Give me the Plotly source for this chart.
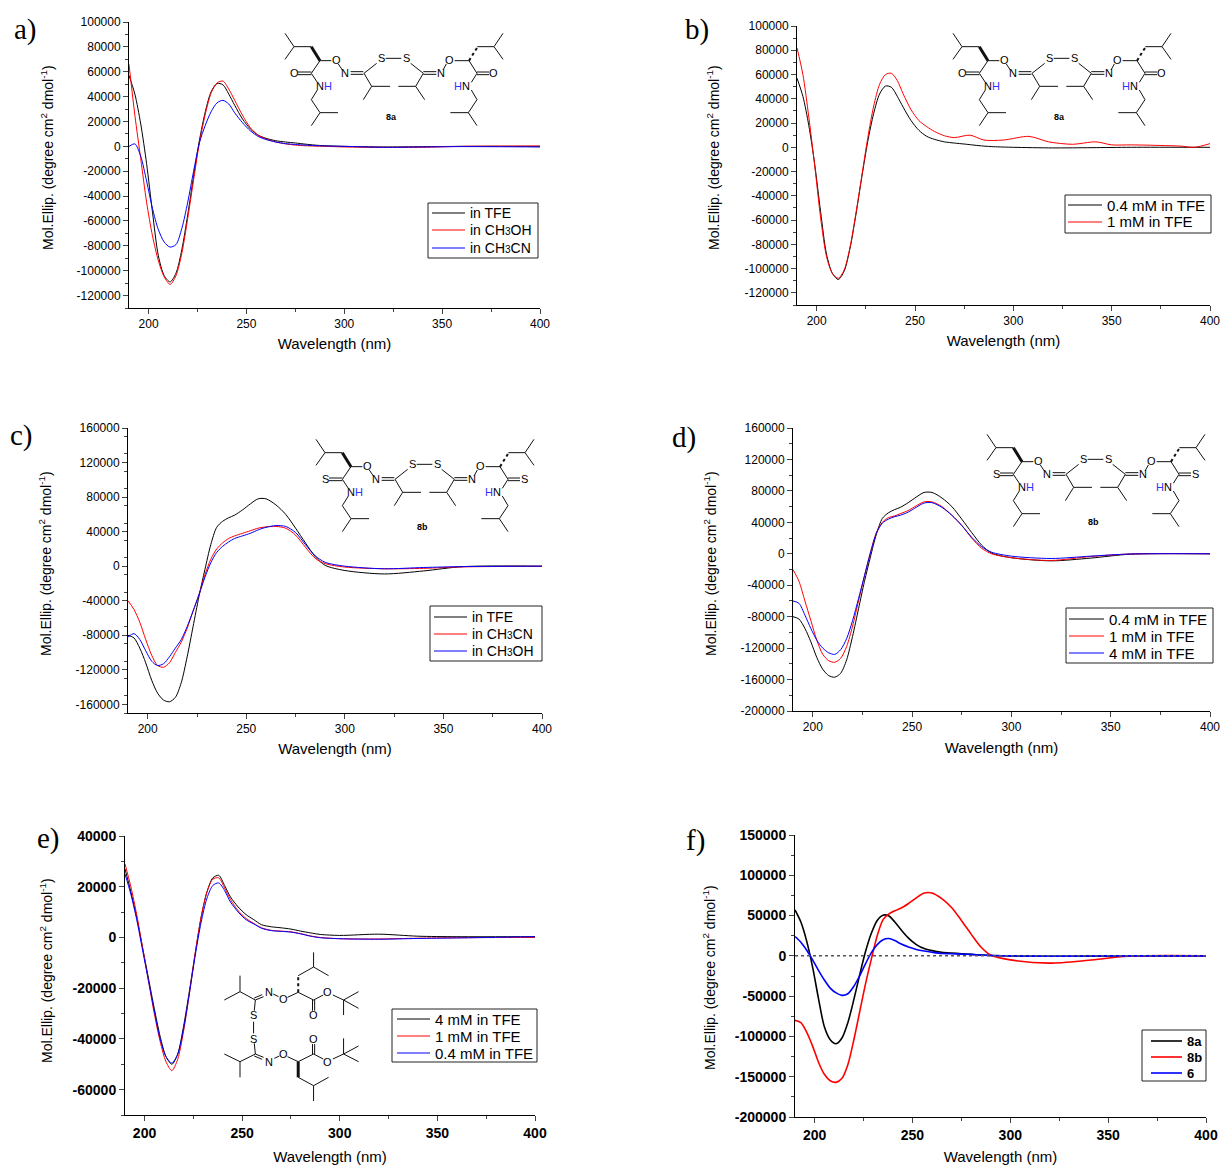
import plotly.graph_objects as go

W, H = 1221, 1165

# ---------- data ----------
WL = [190,193,196,199,202,205,208,211,214,217,220,223,226,229,232,235,238,241,244,248,252,256,260,265,270,275,280,285,290,300,320,340,360,400]

A_TFE = [57000,42000,18000,-14000,-53000,-88000,-104000,-109000,-102000,-83000,-55000,-24000,5000,28000,44000,50500,49500,42000,33000,22000,14000,9000,6500,4500,3500,2700,1800,1000,500,0,-500,-300,0,0]
A_MEOH = [66000,25000,-10000,-45000,-72000,-92000,-105000,-111000,-104000,-86000,-58000,-27000,3000,26000,43000,51000,52500,46000,37000,25000,15000,9000,6000,3500,2000,1000,500,200,0,-500,-800,-700,0,300]
A_MECN = [0,2000,-8000,-28000,-50000,-67000,-77000,-81000,-79000,-66000,-45000,-20000,3000,17000,28000,35000,37000,34000,27000,19000,12500,8000,5500,3500,2200,1500,1000,600,300,0,-800,-500,-200,-500]

WL_B_RED = [190,193,196,199,202,205,208,211,214,217,220,223,226,229,232,235,238,241,244,248,252,256,260,265,270,278,285,295,308,318,330,342,350,360,375,385,392,400]
B_RED = [82000,60000,25000,-15000,-58000,-90000,-104000,-108000,-101000,-82000,-54000,-23000,8000,34000,52000,60000,61000,55000,44000,31000,22000,17000,13000,9500,8000,10000,6000,6000,9000,4500,2500,4500,2000,2000,1500,1000,0,3000]

C_TFE = [-80000,-83000,-95000,-112000,-132000,-147000,-155000,-157000,-152000,-135000,-105000,-70000,-35000,-4000,25000,45000,52000,56000,59000,65000,72000,78000,78000,71000,60000,44000,27000,11000,1000,-5000,-9000,-5500,-500,0]
C_MECN = [-40000,-50000,-65000,-85000,-103000,-115000,-117000,-112000,-100000,-88000,-72000,-52000,-33000,-10000,8000,20000,27000,32000,35000,38000,41000,44000,45500,46000,44000,36000,22000,9000,3000,-1000,-3000,-2500,-800,-200]
C_MEOH = [-82000,-78000,-85000,-98000,-110000,-115000,-113000,-105000,-95000,-85000,-70000,-52000,-33000,-13000,4000,16000,23000,28000,32000,35000,38000,42000,45000,47000,46000,39000,25000,12000,4500,0,-3000,-1500,-500,0]

D_1MM = [-20000,-35000,-60000,-85000,-110000,-128000,-136000,-138000,-133000,-118000,-92000,-60000,-28000,2000,27000,40000,46000,48000,51000,55000,61000,66000,66000,60000,49000,36000,20000,7000,0,-5000,-8500,-3500,-300,0]
D_4MM = [-60000,-63000,-78000,-95000,-110000,-120000,-126000,-128000,-122000,-108000,-85000,-57000,-28000,1000,26000,39000,44000,47000,49000,53000,59000,64500,65000,59000,49000,36000,21000,9000,2000,-3000,-6000,-3000,-300,0]

E_4MM = [27000,18000,8000,-4000,-16000,-28000,-39000,-47000,-50000,-46000,-35000,-21000,-6000,8000,18000,23500,24500,20500,16000,12000,9000,7000,5000,4200,3800,3300,2500,1800,1200,800,1300,500,300,300]
E_1MM = [29000,20000,9000,-4000,-17000,-30000,-41000,-49000,-52500,-48000,-37000,-22000,-6000,8000,18000,23000,23500,19500,15000,10500,7500,5500,3800,2800,2500,2200,1500,600,0,-500,-600,-300,-100,0]
E_04MM = [25000,17000,7000,-5000,-17000,-29000,-40000,-47000,-49500,-46000,-36000,-22000,-7000,6000,15500,20500,21500,18500,14000,10000,7000,5300,3600,2700,2400,2100,1400,500,-100,-500,-700,-400,-200,300]

F_6 = [24000,17000,7000,-5000,-18000,-30000,-40000,-46000,-49000,-47000,-38000,-25000,-10000,4000,14000,20000,21500,19000,15000,11000,8000,6000,4500,3000,2700,2200,1800,1000,500,0,-500,-200,0,0]
F_ZERO_X = [190, 400]
F_ZERO_Y = [0, 0]

XTICKS = [200, 250, 300, 350, 400]

BLACK, RED, BLUE = "#000000", "#ff0000", "#0000ff"
FONT = "Liberation Sans"
YTITLE = "Mol.Ellip. (degree cm<sup>2</sup> dmol<sup>-1</sup>)"
XTITLE = "Wavelength (nm)"
SUB3 = "<span style='font-size:10px'>3</span>"

panels = [
 dict(x0=129, x1=540, yt=22, yb=308, ymax=100000, ymin=-130000, dy=20000, mdy=10000, bold=False, size=12, xs=8, yt_pos=(47,158), lf=14,
      series=[("in TFE",WL,A_TFE,BLACK),("in CH"+SUB3+"OH",WL,A_MEOH,RED),("in CH"+SUB3+"CN",WL,A_MECN,BLUE)],
      lg=(428,203,538,258,432,465,468,[213,230,248])),
 dict(x0=797, x1=1210, yt=26, yb=305, ymax=100000, ymin=-130000, dy=20000, mdy=10000, bold=False, size=12, xs=8, yt_pos=(713,158), lf=15,
      series=[("0.4 mM in TFE",WL,A_TFE,BLACK),("1 mM in TFE",WL_B_RED,B_RED,RED)],
      lg=(1065,195,1211,233,1068,1102,1105,[205,222])),
 dict(x0=128, x1=542, yt=428, yb=713, ymax=160000, ymin=-170000, dy=40000, mdy=20000, bold=False, size=12, xs=8, yt_pos=(45,564), lf=14,
      series=[("in TFE",WL,C_TFE,BLACK),("in CH"+SUB3+"CN",WL,C_MECN,RED),("in CH"+SUB3+"OH",WL,C_MEOH,BLUE)],
      lg=(430,606,542,661,434,467,470,[617,634,651])),
 dict(x0=793, x1=1210, yt=428, yb=711, ymax=160000, ymin=-200000, dy=40000, mdy=20000, bold=False, size=12, xs=9, yt_pos=(710,564), lf=15,
      series=[("0.4 mM in TFE",WL,C_TFE,BLACK),("1 mM in TFE",WL,D_1MM,RED),("4 mM in TFE",WL,D_4MM,BLUE)],
      lg=(1066,608,1213,663,1069,1104,1107,[619,636,653])),
 dict(x0=125, x1=535, yt=836, yb=1115, ymax=40000, ymin=-70000, dy=20000, mdy=10000, bold=True, size=14, xs=11, yt_pos=(46,971), lf=15,
      series=[("4 mM in TFE",WL,E_4MM,BLACK),("1 mM in TFE",WL,E_1MM,RED),("0.4 mM in TFE",WL,E_04MM,BLUE)],
      lg=(392,1009,537,1062,397,430,433,[1019,1036,1053])),
 dict(x0=795, x1=1206, yt=835, yb=1117, ymax=150000, ymin=-200000, dy=50000, mdy=25000, bold=True, size=14, xs=13, yt_pos=(709,978), lf=13,
      series=[("8a",WL,A_TFE,BLACK),("8b",WL,C_TFE,RED),("6",WL,F_6,BLUE)],
      lg=(1142,1030,1206,1081,1151,1182,1185,[1041,1057,1073])),
]

fig = go.Figure()
layout = dict(width=W, height=H, margin=dict(l=0,r=0,t=0,b=0,pad=0,autoexpand=False), paper_bgcolor="white", plot_bgcolor="white",
              autosize=False, showlegend=False, font=dict(family=FONT, color="#000000"))

shapes, annos = [], []
def PX(x): return x/W
def PY(y): return 1-y/H
def line(x1,y1,x2,y2,w=1,dash=None,color="#111111"):
    l = dict(color=color, width=w)
    if dash: l["dash"]=dash
    shapes.append(dict(type="line", xref="paper", yref="paper", x0=PX(x1), y0=PY(y1), x1=PX(x2), y1=PY(y2), line=l))
def text(x,y,s,size=11,bold=False,family=FONT,anchor="center",angle=0):
    annos.append(dict(xref="paper", yref="paper", x=PX(x), y=PY(y), text=s, showarrow=False, xanchor=anchor, yanchor="middle", textangle=angle,
                      font=dict(family=family, size=size, color="#000000", weight="bold" if bold else "normal")))

for i, p in enumerate(panels):
    n = "" if i == 0 else str(i+1)
    xa, ya = "xaxis"+n, "yaxis"+n
    tf = dict(family=FONT, size=p["size"], color="#000000", weight="bold" if p["bold"] else "normal")
    layout[xa] = dict(domain=[p["x0"]/W, p["x1"]/W], range=[190,400], anchor="y"+n, tickmode="array", tickvals=XTICKS,
                      showgrid=False, zeroline=False, showline=True, linecolor="#000000", linewidth=1,
                      ticks="outside", ticklen=5, tickwidth=1, tickfont=tf,
                      minor=dict(tickvals=[225,275,325,375], ticks="outside", ticklen=3, tickwidth=1, showgrid=False),
                      title=dict(text=XTITLE, font=dict(family=FONT, size=15), standoff=p["xs"]))
    ya_ticks = list(range(p["ymin"] + ((-p["ymin"]) % p["dy"]), p["ymax"]+1, p["dy"]))
    ya_minor = list(range(p["ymin"], p["ymax"]+1, p["mdy"]))
    layout[ya] = dict(domain=[1-p["yb"]/H, 1-p["yt"]/H], range=[p["ymin"],p["ymax"]], anchor="x"+n,
                      tickmode="array", tickvals=ya_ticks, ticktext=[str(v) for v in ya_ticks],
                      showgrid=False, zeroline=False, showline=True, linecolor="#000000", linewidth=1,
                      ticks="outside", ticklen=5, tickwidth=1, tickfont=tf,
                      minor=dict(tickvals=ya_minor, ticks="outside", ticklen=3, tickwidth=1, showgrid=False))
    text(p["yt_pos"][0], p["yt_pos"][1], YTITLE, size=14, angle=-90)
    for name, xs, ys, col in p["series"]:
        fig.add_trace(go.Scatter(x=xs, y=ys, mode="lines", name=name, xaxis="x"+n, yaxis="y"+n,
                                 line=dict(color=col, width=1.6 if i==5 else 1, shape="spline", smoothing=0.8)))
    if i == 5:
        fig.add_trace(go.Scatter(x=F_ZERO_X, y=F_ZERO_Y, mode="lines", xaxis="x"+n, yaxis="y"+n, showlegend=False,
                                 line=dict(color="#555555", width=1.5, dash="dot")))
    # legend box
    bx0,by0,bx1,by1,lx0,lx1,tx,rows = p["lg"]
    shapes.append(dict(type="rect", xref="paper", yref="paper", x0=PX(bx0), y0=PY(by0), x1=PX(bx1), y1=PY(by1),
                       fillcolor="white", line=dict(color="#222222", width=1), layer="above"))
    for (name,_,_,col), ry in zip(p["series"], rows):
        line(lx0, ry, lx1, ry, w=1.6 if i==5 else 1, color=col)
        text(tx, ry, name, size=p["lf"], bold=(i==5), anchor="left")

# ---------- drawn molecular structures, panel letters ----------
BONDS_MAIN = [(138,58,165,98),(165,98,138,136),(165,98,217,98),(243,140,277,140),(298,150,310,168),
 (335,173,373,173),(335,181,373,181),(375,178,413,148),(440,133,487,133),(515,148,553,178),
 (553,173,592,173),(553,181,592,181),(612,168,622,150),(647,140,690,140),(715,98,765,98),(765,98,792,58),(765,98,792,136),
 (243,140,217,178),(177,174,217,174),(177,182,217,182),(217,178,235,205),(235,228,217,257),(217,257,243,296),(243,296,297,296),(243,296,217,335),
 (375,178,398,217),(398,217,373,257),(398,217,453,217),(553,178,530,217),(530,217,478,217),(530,217,557,257),
 (690,140,714,178),(714,174,750,174),(714,182,750,182),(714,178,697,205),(697,228,714,257),(714,257,688,296),(688,296,634,296),(688,296,714,335)]
TEXTS_MAIN = [(292,138,"O"),(318,178,"N"),(426,133,"S"),(502,133,"S"),(605,178,"N"),(632,138,"O"),
 (255,217,"N<span style='color:#3333ff'>H</span>"),(670,217,"<span style='color:#3333ff'>H</span>N")]

def chain(kind, dx, dy, label_y_off=0):
    mx = lambda v: v/3+270+dx
    my = lambda v: v/3+420+dy
    for a,b,c,d in BONDS_MAIN:
        line(mx(a),my(b),mx(c),my(d))
    line(mx(217),my(98),mx(243),my(140),w=3)
    line(mx(690),my(140),mx(715),my(100),w=2,dash="dot")
    for a,b,s in TEXTS_MAIN:
        text(mx(a),my(b),s)
    e = "O" if kind=="8a" else "S"
    text(mx(165),my(178),e)
    text(mx(763),my(178),e)
    text(mx(457),my(322)+label_y_off,kind,size=9,bold=True)

chain("8a",-31,-406,-4)
chain("8a",637,-406,-4)
chain("8b",0,0)
chain("8b",671,-5)

# structure in panel e
BONDS_E = [(878,397,878,441),(878,441,920,467),(878,441,835,467),(835,517,805,532),(780,530,765,522),
 (738,530,715,540),(734,524,712,534),(715,540,672,515),(672,515,672,467),(672,515,628,540),(715,540,712,572),(710,605,710,640),(712,670,715,702),
 (715,702,672,725),(672,725,672,772),(672,725,628,702),(715,702,738,712),(712,708,734,718),(768,715,782,708),(805,710,835,725),(835,772,878,797),
 (878,797,920,772),(878,797,878,843),(835,517,878,540),(875,540,875,572),(881,540,881,572),(878,540,905,525),(932,525,962,540),
 (962,540,1004,515),(962,540,1004,565),(962,540,962,585),(835,725,878,702),(875,702,875,672),(881,702,881,672),(878,702,905,717),(932,717,962,702),
 (962,702,1004,678),(962,702,1004,725),(962,702,962,655)]
TEXTS_E = [(793,537,"O"),(752,517,"N"),(710,585,"S"),(710,657,"S"),(752,725,"N"),(793,703,"O"),(878,585,"O"),(918,517,"O"),(878,658,"O"),(918,725,"O")]
ex = lambda v: v/2.8
ey = lambda v: 820+v/3
for a,b,c,d in BONDS_E:
    line(ex(a),ey(b),ex(c),ey(d))
line(ex(835),ey(725),ex(835),ey(772),w=3)
line(ex(835),ey(517),ex(835),ey(467),w=2,dash="dot")
for a,b,s in TEXTS_E:
    text(ex(a),ey(b),s)

SERIF = "Liberation Serif"
for lx,ly,s in [(25,30,"a)"),(697,30,"b)"),(21,435,"c)"),(684,438,"d)"),(48,838,"e)"),(695,840,"f)")]:
    text(lx,ly,s,size=29,family=SERIF)

layout["shapes"]=shapes
layout["annotations"]=annos
fig.update_layout(**layout)
fig.write_html("out.html", config={"displayModeBar":False}, post_script="document.body.style.margin='0';")
